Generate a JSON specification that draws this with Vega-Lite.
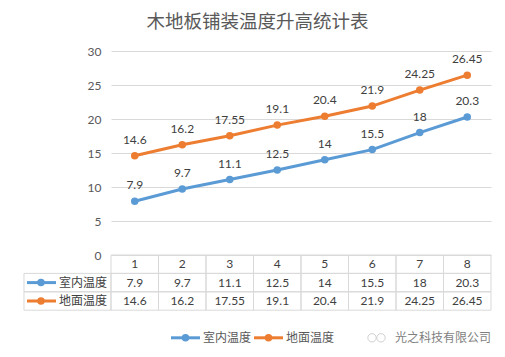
{
  "$schema": "https://vega.github.io/schema/vega-lite/v6.json",
  "background": "white",
  "padding": {"left": 23, "top": 12, "right": 12, "bottom": 2},
  "bounds": "flush",
  "spacing": 0,
  "title": {"text": "木地板铺装温度升高统计表", "fontSize": 18.5, "color": "#595959", "fontWeight": "normal", "font": "Noto Sans CJK SC", "anchor": "middle", "offset": 14},
  "datasets": {
    "temps": [
      {"cat": 1, "series": "室内温度", "value": 7.9},
      {"cat": 2, "series": "室内温度", "value": 9.7},
      {"cat": 3, "series": "室内温度", "value": 11.1},
      {"cat": 4, "series": "室内温度", "value": 12.5},
      {"cat": 5, "series": "室内温度", "value": 14},
      {"cat": 6, "series": "室内温度", "value": 15.5},
      {"cat": 7, "series": "室内温度", "value": 18},
      {"cat": 8, "series": "室内温度", "value": 20.3},
      {"cat": 1, "series": "地面温度", "value": 14.6},
      {"cat": 2, "series": "地面温度", "value": 16.2},
      {"cat": 3, "series": "地面温度", "value": 17.55},
      {"cat": 4, "series": "地面温度", "value": 19.1},
      {"cat": 5, "series": "地面温度", "value": 20.4},
      {"cat": 6, "series": "地面温度", "value": 21.9},
      {"cat": 7, "series": "地面温度", "value": 24.25},
      {"cat": 8, "series": "地面温度", "value": 26.45}
    ],
    "footer": [{"label": "光之科技有限公司"}],
    "icon": [{"bubble": "a", "pos": 5.495}, {"bubble": "b", "pos": 5.684}]
  },
  "resolve": {"scale": {"stroke": "shared", "fill": "shared"}},
  "vconcat": [
    {
      "width": 380,
      "height": 204,
      "data": {"name": "temps"},
      "encoding": {
        "x": {"field": "cat", "type": "ordinal", "scale": {"type": "point", "padding": 0.5}, "axis": null},
        "y": {"field": "value", "type": "quantitative", "scale": {"domain": [0, 30], "nice": false, "zero": true},
          "axis": {"values": [0, 5, 10, 15, 20, 25, 30], "title": null, "domain": false, "ticks": false, "tickSize": 0, "labelPadding": 10, "labelColor": "#595959", "labelFontSize": 12, "grid": true, "gridColor": "#D9D9D9", "gridWidth": 1}}
      },
      "layer": [
        {
          "mark": {"type": "line", "strokeWidth": 3},
          "encoding": {
            "stroke": {"field": "series", "type": "nominal", "scale": {"domain": ["室内温度", "地面温度"], "range": ["#5B9BD5", "#ED7D31"]}, "legend": null}
          }
        },
        {
          "mark": {"type": "point", "filled": true, "size": 36, "strokeWidth": 1.5, "opacity": 1},
          "encoding": {
            "fill": {"field": "series", "type": "nominal", "scale": {"domain": ["室内温度", "地面温度"], "range": ["#5B9BD5", "#ED7D31"]}, "legend": null},
            "stroke": {"field": "series", "type": "nominal", "legend": null}
          }
        },
        {
          "mark": {"type": "text", "dy": -16, "fontSize": 12, "color": "#404040", "baseline": "middle"},
          "encoding": {"text": {"field": "value", "type": "quantitative"}}
        }
      ]
    },
    {
      "width": 380,
      "height": 92,
      "data": {"name": "temps"},
      "resolve": {"scale": {"x": "independent"}},
      "layer": [
        {
          "encoding": {
            "x": {"field": "cat", "type": "ordinal", "scale": {"type": "band", "paddingInner": 0, "paddingOuter": 0}, "axis": null}
          },
          "layer": [
            {
              "transform": [{"filter": "datum.series === '室内温度'"}],
              "mark": {"type": "rect", "fill": "white", "fillOpacity": 0, "stroke": "#D9D9D9", "strokeWidth": 1},
              "encoding": {"y": {"datum": "h", "type": "nominal", "scale": {"domain": ["h", "室内温度", "地面温度", "f1", "f2"], "paddingInner": 0, "paddingOuter": 0}, "axis": null}}
            },
            {
              "mark": {"type": "rect", "fill": "white", "fillOpacity": 0, "stroke": "#D9D9D9", "strokeWidth": 1},
              "encoding": {"y": {"field": "series", "type": "nominal", "axis": null}}
            },
            {
              "transform": [{"filter": "datum.series === '室内温度'"}],
              "mark": {"type": "text", "fontSize": 12, "color": "#404040", "baseline": "middle"},
              "encoding": {"y": {"datum": "h", "type": "nominal", "axis": null}, "text": {"field": "cat", "type": "ordinal"}}
            },
            {
              "mark": {"type": "text", "fontSize": 12, "color": "#404040", "baseline": "middle"},
              "encoding": {"y": {"field": "series", "type": "nominal", "axis": null}, "text": {"field": "value", "type": "quantitative"}}
            }
          ]
        },
        {
          "layer": [
            {
              "transform": [{"filter": "datum.cat === 1"}],
              "mark": {"type": "rect", "fill": "white", "fillOpacity": 0, "stroke": "#D9D9D9", "strokeWidth": 1},
              "encoding": {
                "x": {"datum": -1.832, "type": "quantitative", "scale": {"domain": [0, 8], "nice": false, "zero": false}, "axis": null},
                "x2": {"datum": 0},
                "y": {"field": "series", "type": "nominal", "axis": null}
              }
            },
            {
              "transform": [{"filter": "datum.cat === 1"}],
              "mark": {"type": "rule", "strokeWidth": 3},
              "encoding": {
                "x": {"datum": -1.768, "type": "quantitative", "axis": null},
                "x2": {"datum": -1.158},
                "y": {"field": "series", "type": "nominal", "axis": null},
                "stroke": {"field": "series", "type": "nominal", "legend": null}
              }
            },
            {
              "transform": [{"filter": "datum.cat === 1"}],
              "mark": {"type": "point", "filled": true, "size": 36, "strokeWidth": 1.5, "opacity": 1},
              "encoding": {
                "x": {"datum": -1.474, "type": "quantitative", "axis": null},
                "y": {"field": "series", "type": "nominal", "axis": null},
                "fill": {"field": "series", "type": "nominal", "legend": null},
                "stroke": {"field": "series", "type": "nominal", "legend": null}
              }
            },
            {
              "transform": [{"filter": "datum.cat === 1"}],
              "mark": {"type": "text", "fontSize": 12, "color": "#404040", "align": "left", "baseline": "middle"},
              "encoding": {
                "x": {"datum": -1.095, "type": "quantitative", "axis": null},
                "y": {"field": "series", "type": "nominal", "axis": null},
                "text": {"field": "series", "type": "nominal"}
              }
            },
            {
              "transform": [{"filter": "datum.cat === 1 && datum.series === '室内温度'"}],
              "layer": [
                {
                  "mark": {"type": "rule", "strokeWidth": 3},
                  "encoding": {
                    "x": {"datum": 1.263, "type": "quantitative", "axis": null},
                    "x2": {"datum": 1.874},
                    "y": {"datum": "f2", "type": "nominal", "axis": null},
                    "stroke": {"field": "series", "type": "nominal", "legend": null}
                  }
                },
                {
                  "mark": {"type": "point", "filled": true, "size": 36, "strokeWidth": 1.5, "opacity": 1},
                  "encoding": {
                    "x": {"datum": 1.568, "type": "quantitative", "axis": null},
                    "y": {"datum": "f2", "type": "nominal", "axis": null},
                    "fill": {"field": "series", "type": "nominal", "legend": null},
                    "stroke": {"field": "series", "type": "nominal", "legend": null}
                  }
                },
                {
                  "mark": {"type": "text", "fontSize": 12, "color": "#595959", "align": "left", "baseline": "middle"},
                  "encoding": {
                    "x": {"datum": 1.937, "type": "quantitative", "axis": null},
                    "y": {"datum": "f2", "type": "nominal", "axis": null},
                    "text": {"field": "series", "type": "nominal"}
                  }
                }
              ]
            },
            {
              "transform": [{"filter": "datum.cat === 1 && datum.series === '地面温度'"}],
              "layer": [
                {
                  "mark": {"type": "rule", "strokeWidth": 3},
                  "encoding": {
                    "x": {"datum": 3.011, "type": "quantitative", "axis": null},
                    "x2": {"datum": 3.621},
                    "y": {"datum": "f2", "type": "nominal", "axis": null},
                    "stroke": {"field": "series", "type": "nominal", "legend": null}
                  }
                },
                {
                  "mark": {"type": "point", "filled": true, "size": 36, "strokeWidth": 1.5, "opacity": 1},
                  "encoding": {
                    "x": {"datum": 3.316, "type": "quantitative", "axis": null},
                    "y": {"datum": "f2", "type": "nominal", "axis": null},
                    "fill": {"field": "series", "type": "nominal", "legend": null},
                    "stroke": {"field": "series", "type": "nominal", "legend": null}
                  }
                },
                {
                  "mark": {"type": "text", "fontSize": 12, "color": "#595959", "align": "left", "baseline": "middle"},
                  "encoding": {
                    "x": {"datum": 3.684, "type": "quantitative", "axis": null},
                    "y": {"datum": "f2", "type": "nominal", "axis": null},
                    "text": {"field": "series", "type": "nominal"}
                  }
                }
              ]
            },
            {
              "data": {"name": "icon"},
              "mark": {"type": "point", "shape": "circle", "filled": false, "size": 70, "strokeWidth": 1, "color": "#D0D0D0", "opacity": 1},
              "encoding": {
                "x": {"field": "pos", "type": "quantitative", "axis": null},
                "y": {"datum": "f2", "type": "nominal", "axis": null}
              }
            },
            {
              "data": {"name": "footer"},
              "mark": {"type": "text", "fontSize": 12, "color": "#7F7F7F", "align": "right", "baseline": "middle"},
              "encoding": {
                "x": {"datum": 8, "type": "quantitative", "axis": null},
                "y": {"datum": "f2", "type": "nominal", "axis": null},
                "text": {"field": "label", "type": "nominal"}
              }
            }
          ]
        }
      ]
    }
  ],
  "config": {
    "view": {"stroke": null},
    "font": "Lato, Noto Sans CJK SC"
  }
}
